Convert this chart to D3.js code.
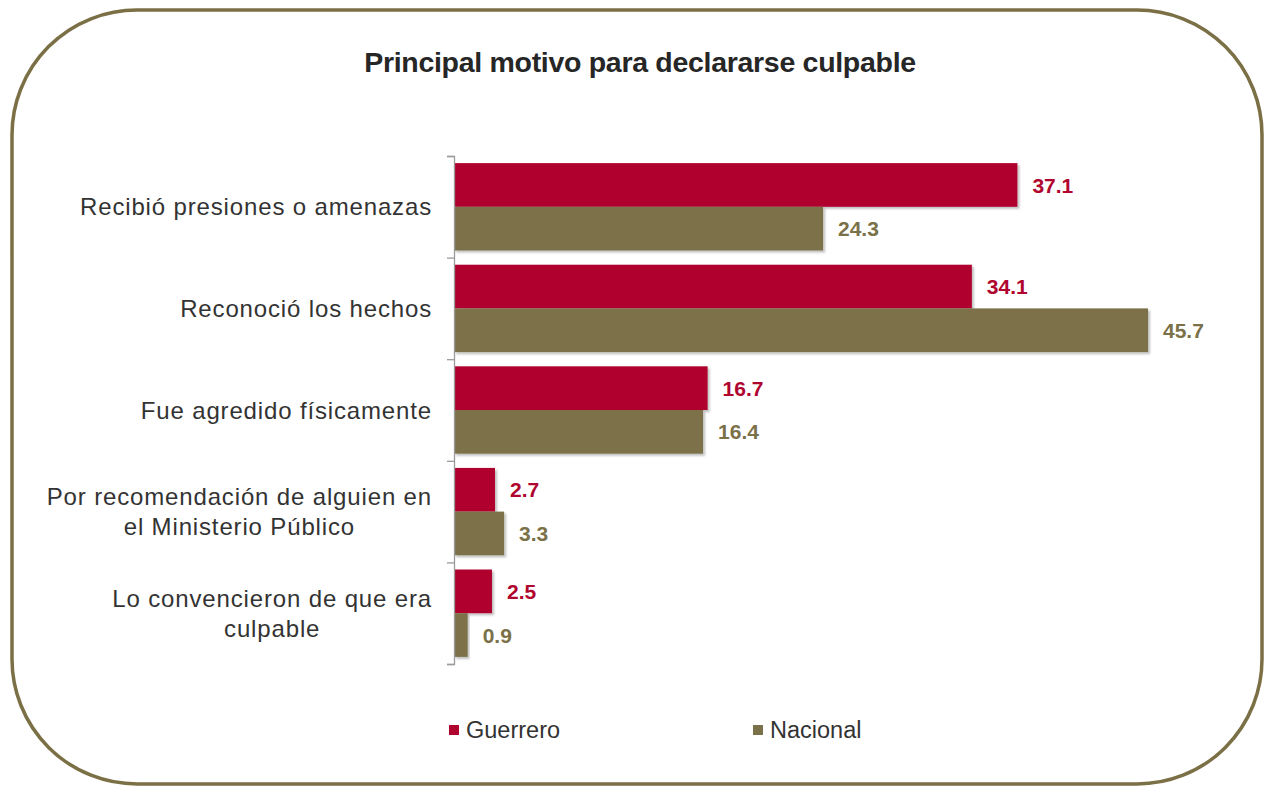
<!DOCTYPE html>
<html>
<head>
<meta charset="utf-8">
<script src="https://cdn.jsdelivr.net/npm/d3@7"></script>
<style>
  body { margin: 0; background: #fff; }
  svg { display: block; font-family: "Liberation Sans", Arial, sans-serif; }
</style>
</head>
<body>
<svg width="1264" height="787"></svg>
<script>
var categories = [
    ['Recibió presiones o amenazas'],
    ['Reconoció los hechos'],
    ['Fue agredido físicamente'],
    ['Por recomendación de alguien en', 'el Ministerio Público'],
    ['Lo convencieron de que era', 'culpable']
];
var guerrero = [37.1, 34.1, 16.7, 2.7, 2.5];
var nacional = [24.3, 45.7, 16.4, 3.3, 0.9];
var seriesNames = ['Guerrero', 'Nacional'];
var colors = ['#b0052e', '#7b7149'];

var svg = d3.select('svg');

// shadow for the bars
var defs = svg.append('defs');
var filter = defs.append('filter').attr('id', 'shadow')
    .attr('x', '-5%').attr('y', '-10%').attr('width', '115%').attr('height', '130%');
filter.append('feDropShadow')
    .attr('dx', 2).attr('dy', 2).attr('stdDeviation', 1.2)
    .attr('flood-color', '#000').attr('flood-opacity', 0.25);

// rounded frame
svg.append('rect')
    .attr('x', 12).attr('y', 10)
    .attr('width', 1250).attr('height', 774)
    .attr('rx', 125).attr('ry', 125)
    .attr('fill', '#fff')
    .attr('stroke', '#7a6f45')
    .attr('stroke-width', 3.5);

svg.append('text')
    .attr('x', 640).attr('y', 72)
    .attr('text-anchor', 'middle')
    .attr('font-size', '28.5px')
    .attr('font-weight', 'bold')
    .attr('letter-spacing', '-0.3px')
    .attr('fill', '#262626')
    .text('Principal motivo para declararse culpable');

var x0 = 454;
var xScale = d3.scaleLinear().domain([0, 45.7]).range([x0, 1148]);

var yScale = d3.scaleBand()
    .domain(d3.range(categories.length))
    .range([156, 664])
    .paddingInner(0.14)
    .paddingOuter(0.07);

var inner = d3.scaleBand()
    .domain([0, 1])
    .range([0, yScale.bandwidth()]);

var rows = categories.map(function(c, i) {
    return { label: c, values: [guerrero[i], nacional[i]], i: i };
});

var groups = svg.selectAll('g.row')
    .data(rows)
    .enter()
    .append('g')
    .classed('row', true)
    .attr('transform', d => 'translate(0,' + yScale(d.i) + ')');

groups.selectAll('rect')
    .data(d => d.values)
    .enter()
    .append('rect')
    .attr('x', x0)
    .attr('y', (d, j) => inner(j))
    .attr('width', d => xScale(d) - x0)
    .attr('height', inner.bandwidth())
    .attr('fill', (d, j) => colors[j])
    .attr('filter', 'url(#shadow)');

groups.selectAll('text.value')
    .data(d => d.values)
    .enter()
    .append('text')
    .classed('value', true)
    .attr('x', d => xScale(d) + 15)
    .attr('y', (d, j) => inner(j) + inner.bandwidth() / 2)
    .attr('dy', '0.36em')
    .attr('font-size', '21px')
    .attr('font-weight', 'bold')
    .attr('fill', (d, j) => colors[j])
    .text(d => d.toFixed(1));

// axis with ticks between categories
var axisScale = d3.scaleLinear().domain([0, categories.length]).range([156, 664]);
var axisG = svg.append('g')
    .attr('transform', 'translate(' + x0 + ',0)')
    .call(d3.axisLeft(axisScale).ticks(5).tickSize(7).tickFormat(''));
axisG.selectAll('line, path').attr('stroke', '#9a9a9a').attr('stroke-width', 1.3);

// category labels: block right-aligned, lines centred within the block
var step = (664 - 156) / categories.length;
var labelRight = 432;
groups.append('text')
    .attr('font-size', '24px')
    .attr('letter-spacing', '0.85px')
    .attr('fill', '#333')
    .each(function(d) {
        var t = d3.select(this);
        var n = d.label.length;
        var spans = d.label.map(function(line, k) {
            return t.append('tspan')
                .attr('y', step / 2 - yScale.step() * 0.07 + (k - (n - 1) / 2) * 30)
                .attr('dy', '0.36em')
                .text(line);
        });
        var maxW = d3.max(spans, s => s.node().getComputedTextLength());
        spans.forEach(function(s) {
            s.attr('text-anchor', n > 1 ? 'middle' : 'end')
             .attr('x', n > 1 ? labelRight - maxW / 2 : labelRight);
        });
    });

// legend
var legendX = [449, 753];
var legend = svg.selectAll('g.legend')
    .data(seriesNames)
    .enter()
    .append('g')
    .classed('legend', true)
    .attr('transform', (d, i) => 'translate(' + legendX[i] + ',730)');
legend.append('rect')
    .attr('x', 0).attr('y', -5)
    .attr('width', 10).attr('height', 10)
    .attr('fill', (d, i) => colors[i]);
legend.append('text')
    .attr('x', 17)
    .attr('dy', '0.36em')
    .attr('font-size', '23.5px')
    .attr('fill', '#333')
    .text(d => d);
</script>
</body>
</html>
